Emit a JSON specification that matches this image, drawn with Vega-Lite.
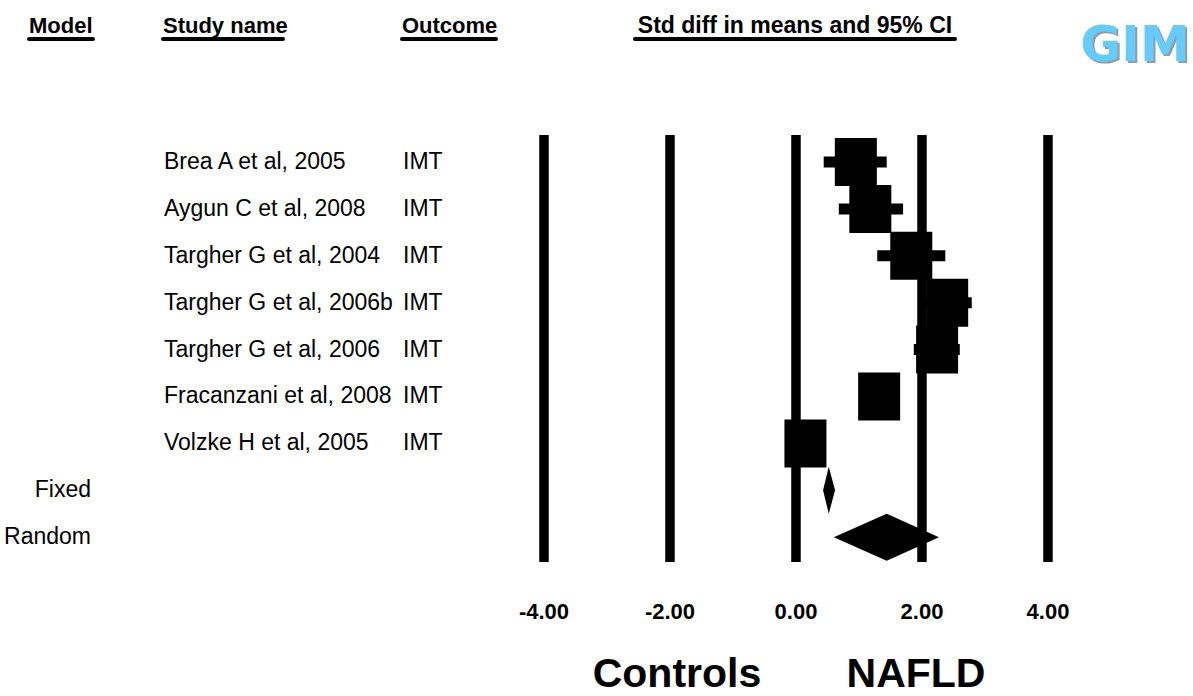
{
  "$schema": "https://vega.github.io/schema/vega-lite/v6.json",
  "width": 1193,
  "height": 696,
  "autosize": "none",
  "padding": 0,
  "background": "white",
  "config": {"view": {"stroke": null}, "text": {"font": "Liberation Sans", "color": "black"}},
  "datasets": {
    "studies": [
      {"study": "Brea A et al, 2005", "outcome": "IMT", "row": 1, "est": 0.95, "lo": 0.44, "hi": 1.44},
      {"study": "Aygun C et al, 2008", "outcome": "IMT", "row": 2, "est": 1.18, "lo": 0.68, "hi": 1.70},
      {"study": "Targher G et al, 2004", "outcome": "IMT", "row": 3, "est": 1.83, "lo": 1.29, "hi": 2.37},
      {"study": "Targher G et al, 2006b", "outcome": "IMT", "row": 4, "est": 2.40, "lo": 2.01, "hi": 2.79},
      {"study": "Targher G et al, 2006", "outcome": "IMT", "row": 5, "est": 2.24, "lo": 1.87, "hi": 2.60},
      {"study": "Fracanzani et al, 2008", "outcome": "IMT", "row": 6, "est": 1.32, "lo": 1.05, "hi": 1.59},
      {"study": "Volzke H et al, 2005", "outcome": "IMT", "row": 7, "est": 0.15, "lo": 0.02, "hi": 0.28}
    ],
    "summary": [
      {"model": "Fixed", "row": 8, "est": 0.52, "lo": 0.43, "hi": 0.62},
      {"model": "Random", "row": 9, "est": 1.44, "lo": 0.60, "hi": 2.27}
    ],
    "diamond": [
      {"model": "Fixed", "x": 0.43, "top": 8, "bottom": 8},
      {"model": "Fixed", "x": 0.52, "top": 7.5, "bottom": 8.5},
      {"model": "Fixed", "x": 0.62, "top": 8, "bottom": 8},
      {"model": "Random", "x": 0.60, "top": 9, "bottom": 9},
      {"model": "Random", "x": 1.44, "top": 8.5, "bottom": 9.5},
      {"model": "Random", "x": 2.27, "top": 9, "bottom": 9}
    ],
    "ticks": [
      {"v": -4, "label": "-4.00"},
      {"v": -2, "label": "-2.00"},
      {"v": 0, "label": "0.00"},
      {"v": 2, "label": "2.00"},
      {"v": 4, "label": "4.00"}
    ]
  },
  "layer": [
    {
      "data": {"name": "ticks"},
      "mark": {"type": "rule", "color": "black", "strokeWidth": 9.5, "strokeCap": "butt"},
      "encoding": {
        "x": {"field": "v", "type": "quantitative", "axis": null, "scale": {"domain": [-12.635, 6.302], "nice": false, "zero": false}},
        "y": {"datum": 0.424, "type": "quantitative", "axis": null, "scale": {"domain": [-2.454, 12.386], "nice": false, "zero": false, "reverse": true}},
        "y2": {"datum": 9.529}
      }
    },
    {
      "data": {"name": "studies"},
      "mark": {"type": "rule", "color": "black", "strokeWidth": 11, "strokeCap": "butt"},
      "encoding": {
        "x": {"field": "lo", "type": "quantitative"},
        "x2": {"field": "hi"},
        "y": {"field": "row", "type": "quantitative"}
      }
    },
    {
      "data": {"name": "studies"},
      "mark": {"type": "point", "shape": "M-0.875,-1H0.875V1H-0.875Z", "size": 2304, "filled": true, "color": "black", "opacity": 1, "strokeWidth": 0},
      "encoding": {
        "x": {"field": "est", "type": "quantitative"},
        "y": {"field": "row", "type": "quantitative"}
      }
    },
    {
      "data": {"name": "diamond"},
      "mark": {"type": "area", "orient": "vertical", "color": "black", "opacity": 1},
      "encoding": {
        "x": {"field": "x", "type": "quantitative"},
        "y": {"field": "top", "type": "quantitative"},
        "y2": {"field": "bottom"},
        "detail": {"field": "model", "type": "nominal"}
      }
    },
    {
      "data": {"name": "studies"},
      "mark": {"type": "text", "align": "left", "baseline": "middle", "fontSize": 23},
      "encoding": {
        "x": {"datum": -10.032, "type": "quantitative"},
        "y": {"field": "row", "type": "quantitative"},
        "text": {"field": "study"}
      }
    },
    {
      "data": {"name": "studies"},
      "mark": {"type": "text", "align": "left", "baseline": "middle", "fontSize": 23},
      "encoding": {
        "x": {"datum": -6.238, "type": "quantitative"},
        "y": {"field": "row", "type": "quantitative"},
        "text": {"field": "outcome"}
      }
    },
    {
      "data": {"name": "summary"},
      "mark": {"type": "text", "align": "right", "baseline": "middle", "fontSize": 23},
      "encoding": {
        "x": {"datum": -11.19, "type": "quantitative"},
        "y": {"field": "row", "type": "quantitative"},
        "text": {"field": "model"}
      }
    },
    {
      "data": {"name": "ticks"},
      "mark": {"type": "text", "align": "center", "baseline": "middle", "fontSize": 22, "fontWeight": "bold"},
      "encoding": {
        "x": {"field": "v", "type": "quantitative"},
        "y": {"datum": 10.595, "type": "quantitative"},
        "text": {"field": "label"}
      }
    },
    {
      "data": {"values": [{"label": "Controls", "side": -1.889}, {"label": "NAFLD", "side": 1.905}]},
      "mark": {"type": "text", "align": "center", "baseline": "alphabetic", "fontSize": 41, "fontWeight": "bold"},
      "encoding": {
        "x": {"field": "side", "type": "quantitative"},
        "y": {"datum": 12.194, "type": "quantitative"},
        "text": {"field": "label"}
      }
    },
    {
      "data": {"values": [{"label": "Model", "start": -12.175}, {"label": "Study name", "start": -10.048}, {"label": "Outcome", "start": -6.254}]},
      "mark": {"type": "text", "align": "left", "baseline": "alphabetic", "fontSize": 22, "fontWeight": "bold"},
      "encoding": {
        "x": {"field": "start", "type": "quantitative"},
        "y": {"datum": -1.75, "type": "quantitative"},
        "text": {"field": "label"}
      }
    },
    {
      "data": {"values": [{"label": "Std diff in means and 95% CI"}]},
      "mark": {"type": "text", "align": "center", "baseline": "alphabetic", "fontSize": 23, "fontWeight": "bold"},
      "encoding": {
        "x": {"datum": -0.016, "type": "quantitative"},
        "y": {"datum": -1.75, "type": "quantitative"},
        "text": {"field": "label"}
      }
    },
    {
      "data": {"values": [{"label": "Model", "start": -12.175, "end": -11.159}, {"label": "Study name", "start": -10.048, "end": -8.143}, {"label": "Outcome", "start": -6.254, "end": -4.762}, {"label": "Std diff in means and 95% CI", "start": -2.556, "end": 2.524}]},
      "mark": {"type": "rule", "color": "black", "strokeWidth": 4, "strokeCap": "round"},
      "encoding": {
        "x": {"field": "start", "type": "quantitative"},
        "x2": {"field": "end"},
        "y": {"datum": -1.622, "type": "quantitative"}
      }
    },
    {
      "data": {"values": [{"logo": "GIM"}]},
      "mark": {"type": "text", "align": "center", "baseline": "alphabetic", "fontSize": 50, "fontWeight": "bold", "font": "DejaVu Sans", "color": "#9a9a9a", "dx": 2, "dy": 2},
      "encoding": {
        "x": {"datum": 5.381, "type": "quantitative"},
        "y": {"datum": -1.15, "type": "quantitative"},
        "text": {"field": "logo"}
      }
    },
    {
      "data": {"values": [{"logo": "GIM"}]},
      "mark": {"type": "text", "align": "center", "baseline": "alphabetic", "fontSize": 50, "fontWeight": "bold", "font": "DejaVu Sans", "color": "#66ccff"},
      "encoding": {
        "x": {"datum": 5.381, "type": "quantitative"},
        "y": {"datum": -1.15, "type": "quantitative"},
        "text": {"field": "logo"}
      }
    }
  ]
}
